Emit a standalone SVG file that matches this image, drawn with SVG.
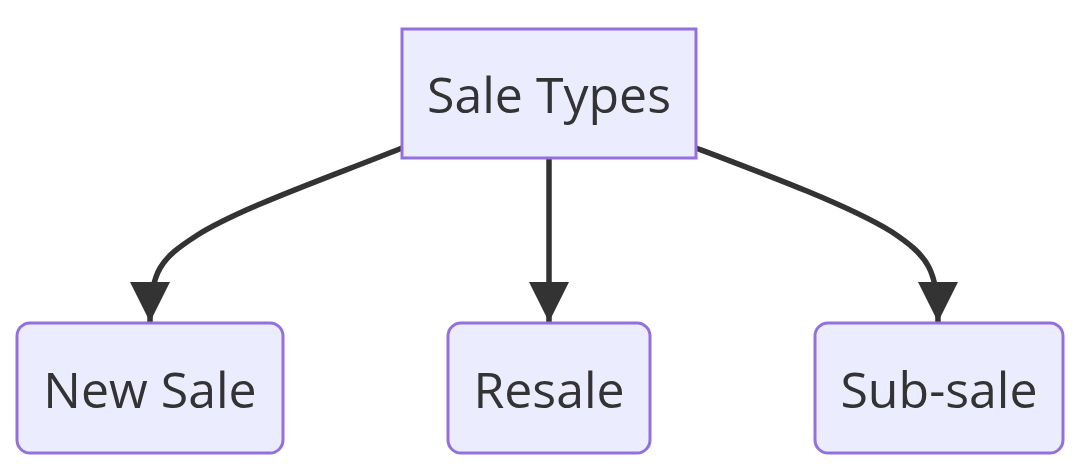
<svg xmlns="http://www.w3.org/2000/svg" width="1086" height="472" viewBox="0 0 1086 472">
<defs>
<style>
.node rect{fill:#ECECFF;stroke:#9370DB;stroke-width:3}
.node text{font-family:"Open Sans","Noto Sans",sans-serif;font-size:50px;fill:#333333;text-anchor:middle}
.edge{fill:none;stroke:#333333;stroke-width:5.5}
</style>
<marker id="arrow" markerUnits="userSpaceOnUse" viewBox="0 0 40 40" refX="40" refY="20" markerWidth="40" markerHeight="40" orient="auto">
<path d="M0,0 L40,20 L0,40 Z" fill="#333333"/>
</marker>
</defs>
<rect width="1086" height="472" fill="#ffffff"/>
<g id="edges">
<path class="edge" d="M402,148 C330,177 240,208 196,236 C162,258 150,270 150,322" marker-end="url(#arrow)"/>
<path class="edge" d="M549,158 L549,322" marker-end="url(#arrow)"/>
<path class="edge" d="M696,148 C770,176 850,206 892,232 C928,256 938,270 938,322" marker-end="url(#arrow)"/>
</g>
<g id="sale-types" class="node">
<rect x="402" y="29" width="294" height="129"/>
<text x="549" y="113">Sale Types</text>
</g>
<g id="new-sale" class="node">
<rect x="17" y="323" width="266" height="130" rx="13" ry="13"/>
<text x="150" y="408">New Sale</text>
</g>
<g id="resale" class="node">
<rect x="448" y="323" width="202" height="130" rx="13" ry="13"/>
<text x="549" y="408">Resale</text>
</g>
<g id="sub-sale" class="node">
<rect x="815" y="323" width="248" height="130" rx="13" ry="13"/>
<text x="939" y="408">Sub-sale</text>
</g>
</svg>
